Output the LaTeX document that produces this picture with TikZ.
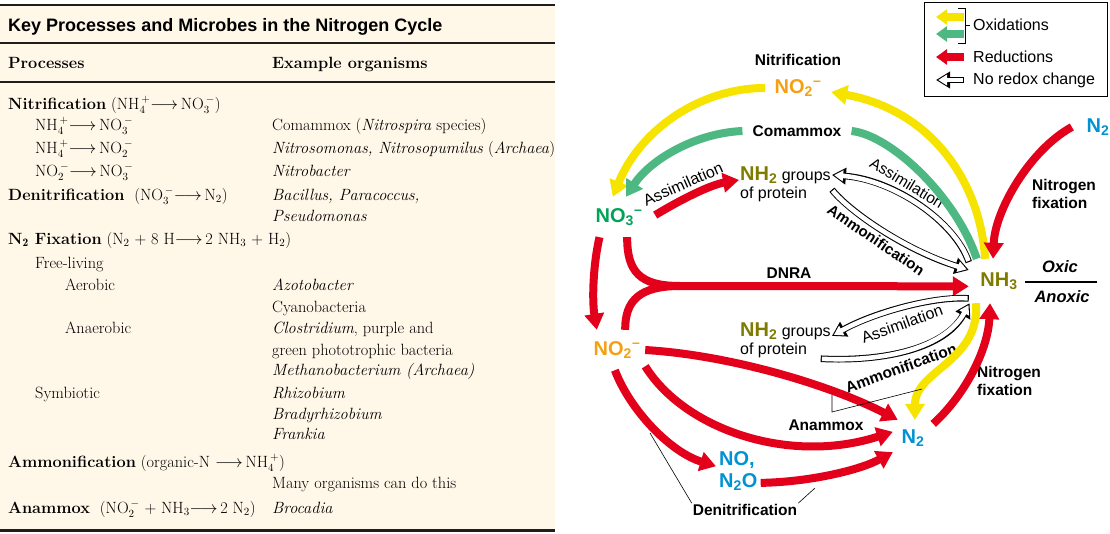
\documentclass[tikz,border=0pt]{standalone}
\usepackage{fontspec}
\setsansfont{Liberation Sans}
\usetikzlibrary{arrows.meta}
\definecolor{NCRed}{HTML}{E2001A}
\definecolor{NCYellow}{HTML}{F6E400}
\definecolor{NCGreen}{HTML}{4DB882}
\definecolor{NCOrange}{HTML}{F4A012}
\definecolor{NCNitrate}{HTML}{00A357}
\definecolor{NCOlive}{HTML}{7F7B00}
\definecolor{NCBlue}{HTML}{0092D2}
\definecolor{NCCream}{HTML}{FFF7E8}
\definecolor{NCDark}{HTML}{1E1E1E}
\newcommand{\ncam}{NH$_4^{\,+}$}
\newcommand{\ncnit}{NO$_3^{\,-}$}
\newcommand{\ncnii}{NO$_2^{\,-}$}
\newcommand{\ncto}{$\longrightarrow$\,}
\tikzset{nccell/.style={anchor=base west, inner sep=0pt, font=\fontsize{16.3}{18}\selectfont}, ncrule/.style={draw=NCDark, line width=2.5pt}, ncchem/.style={font=\sffamily\bfseries\fontsize{20}{22}\selectfont, inner sep=0pt}, nclabel/.style={font=\sffamily\bfseries\fontsize{15.5}{18}\selectfont, inner sep=1pt}, nctext/.style={font=\sffamily\fontsize{16}{18}\selectfont, inner sep=1pt}, ncgroups/.style={nctext, align=left, anchor=west}, ncarrow/.style={line width=8pt, -{Triangle[length=16pt,width=19pt]}}, ncred/.style={ncarrow, draw=NCRed}, ncyellow/.style={ncarrow, draw=NCYellow}, ncgreen/.style={ncarrow, draw=NCGreen}, nchollow/.style={draw=white, line width=4.6pt, shorten <=1.2pt, shorten >=2.2pt, -{Triangle[length=9pt,width=10.5pt]}, preaction={draw=black, line width=6.6pt, shorten <=0pt, shorten >=0pt, -{Triangle[length=14pt,width=16pt]}}}, ncthin/.style={draw=black, line width=0.6pt}}
\begin{document}
\begin{tikzpicture}[x=1pt,y=-1pt]
\useasboundingbox (0,0) rectangle (1110,533);
% table
\fill[NCCream] (0,5) rectangle (555,530);
\draw[ncrule] (0,5) -- (555,5);
\draw[ncrule] (0,43) -- (555,43);
\draw[ncrule, line width=2pt] (0,82) -- (555,82);
\draw[ncrule, line width=3pt] (0,530) -- (555,530);
\node[nccell, font=\sffamily\bfseries\fontsize{18}{20}\selectfont] (ttitle) at (8,31) {Key Processes and Microbes in the Nitrogen Cycle};
\node[nccell, font=\bfseries\fontsize{16.3}{18}\selectfont] (thproc) at (8,68) {Processes};
\node[nccell, font=\bfseries\fontsize{16.3}{18}\selectfont] (thorg) at (272,68) {Example organisms};
\node[nccell] (pnitr) at (8,109) {\textbf{Nitrification} (\ncam\ncto\ncnit)};
\node[nccell] (pnitra) at (35,130) {\ncam\ncto\ncnit};
\node[nccell] (pnitrb) at (35,153) {\ncam\ncto\ncnii};
\node[nccell] (pnitrc) at (35,176) {\ncnii\ncto\ncnit};
\node[nccell] (pdenit) at (8,200) {\textbf{Denitrification}\ \ (\ncnit\ncto N$_2$)};
\node[nccell] (pfix) at (8,244) {\textbf{N$_{\mathbf{2}}$ Fixation} (N$_2$ + 8 H\ncto 2 NH$_3$ + H$_2$)};
\node[nccell] (pfree) at (35,268) {Free-living};
\node[nccell] (paer) at (65,290) {Aerobic};
\node[nccell] (panaer) at (65,333) {Anaerobic};
\node[nccell] (psym) at (35,398) {Symbiotic};
\node[nccell] (pammon) at (8,467) {\textbf{Ammonification} (organic-N \ncto\ncam)};
\node[nccell] (panam) at (8,513) {\textbf{Anammox}\ \ (\ncnii\ + NH$_3$\ncto 2 N$_2$)};
\node[nccell] (onitra) at (272,130) {Comammox (\textit{Nitrospira} species)};
\node[nccell] (onitrb) at (272,153) {\textit{Nitrosomonas, Nitrosopumilus} (\textit{Archaea})};
\node[nccell] (onitrc) at (272,176) {\textit{Nitrobacter}};
\node[nccell] (odenita) at (272,200) {\textit{Bacillus, Paracoccus,}};
\node[nccell] (odenitb) at (272,221) {\textit{Pseudomonas}};
\node[nccell] (oaera) at (272,290) {\textit{Azotobacter}};
\node[nccell] (oaerb) at (272,312) {Cyanobacteria};
\node[nccell] (oanaera) at (272,333) {\textit{Clostridium}, purple and};
\node[nccell] (oanaerb) at (272,355) {green phototrophic bacteria};
\node[nccell] (oanaerc) at (272,375) {\textit{Methanobacterium (Archaea)}};
\node[nccell] (osyma) at (272,398) {\textit{Rhizobium}};
\node[nccell] (osymb) at (272,419) {\textit{Bradyrhizobium}};
\node[nccell] (osymc) at (272,439) {\textit{Frankia}};
\node[nccell] (oammon) at (272,488) {Many organisms can do this};
\node[nccell] (oanam) at (272,513) {\textit{Brocadia}};
% cycle
\node[ncchem, text=NCOrange, minimum width=66pt, minimum height=24pt] (no2top) at (798,88) {NO\textsubscript{2}\textsuperscript{–}};
\node[ncchem, text=NCNitrate, minimum width=72pt, minimum height=40pt] (no3) at (619,217) {NO\textsubscript{3}\textsuperscript{–}};
\node[ncchem, text=NCOrange, minimum width=56pt, minimum height=40pt] (no2) at (617,350) {NO\textsubscript{2}\textsuperscript{–}};
\node[ncchem, text=NCOlive, minimum width=60pt, minimum height=44pt] (nh3) at (999,281) {NH\textsubscript{3}};
\node[ncchem, text=NCBlue, minimum width=52pt, minimum height=24pt] (n2top) at (1098,127) {N\textsubscript{2}};
\node[ncchem, text=NCBlue, minimum width=40pt, minimum height=36pt] (n2bot) at (913,438) {N\textsubscript{2}};
\node[ncchem, text=NCBlue, align=left, anchor=west, inner sep=3pt] (nox) at (716,471) {NO,\\N\textsubscript{2}O};
\node[ncgroups] (nh2top) at (739,184) {{\color{NCOlive}\bfseries\fontsize{20}{20}\selectfont NH\textsubscript{2}} groups\\of protein};
\node[ncgroups] (nh2bot) at (739,340) {{\color{NCOlive}\bfseries\fontsize{20}{20}\selectfont NH\textsubscript{2}} groups\\of protein};
\node[nclabel] (nitrtxt) at (798,60) {Nitrification};
\node[nclabel, inner xsep=10pt] (comtxt) at (797,131) {Comammox};
\node[nclabel] (dnratxt) at (789,273) {DNRA};
\node[nclabel] (anamtxt) at (826,425) {Anammox};
\node[nclabel] (denitxt) at (745,510) {Denitrification};
\node[nclabel, align=left, anchor=west] (fixtop) at (1031,194) {Nitrogen\\fixation};
\node[nclabel, align=left, anchor=west] (fixbot) at (976,381) {Nitrogen\\fixation};
\node[nclabel, font=\sffamily\bfseries\itshape\fontsize{16.5}{18}\selectfont] (oxic) at (1060,267) {Oxic};
\node[nclabel, font=\sffamily\bfseries\itshape\fontsize{16.5}{18}\selectfont] (anoxic) at (1062,297) {Anoxic};
\coordinate (oxl) at (1025,282);
\coordinate (oxr) at (1097,282);
\draw[line width=1.5pt] (oxl) -- (oxr);
\node[nctext, rotate=24] (assimtop) at (683,184) {Assimilation};
\node[nctext, font=\sffamily\fontsize{15.5}{18}\selectfont, rotate=-31] (assimup) at (907,183) {Assimilation};
\node[nclabel, font=\sffamily\bfseries\fontsize{15}{18}\selectfont, rotate=-34] (ammup) at (876,240) {Ammonification};
\node[nctext, rotate=20] (assimlow) at (902,324) {Assimilation};
\node[nclabel, rotate=20] (ammlow) at (901,368) {Ammonification};
% oxidations
\draw[ncyellow] (nh3.122) .. controls (980,180) and (930,110) .. (no2top.353);
\draw[ncyellow] (no2top.west) .. controls (700,88) and (640,130) .. (no3.107);
\draw[ncgreen, -] (nh3.135) .. controls (955,195) and (890,135) .. (comtxt.east);
\draw[ncgreen] (comtxt.west) .. controls (695,133) and (650,160) .. (no3.71);
\draw[ncyellow] (nh3.224) .. controls (980,362) and (915,370) .. (n2bot.84);
% reductions
\coordinate (dnra) at (680,286);
\draw[ncred] (no3.292) .. controls (627,272) and (640,286) .. (dnra) -- (nh3.190);
\draw[ncred, -] (no2.68) .. controls (625,300) and (640,286) .. (dnra);
\draw[ncred] (no3.226) .. controls (593,265) and (592,300) .. (no2.135);
\draw[ncred] (no3.3) .. controls (680,200) and (710,185) .. (nh2top.175);
\draw[ncred] (n2top.west) .. controls (1030,150) and (995,210) .. (nh3.105);
\draw[ncred] (n2bot.35) .. controls (965,395) and (988,350) .. (nh3.248);
\draw[ncred] (no2.0) .. controls (730,355) and (830,385) .. (n2bot.130);
\draw[ncred] (no2.330) .. controls (685,430) and (790,465) .. (n2bot.163);
\draw[ncred] (no2.264) .. controls (630,410) and (670,452) .. (nox.168);
\draw[ncred] (nox.332) .. controls (810,482) and (860,470) .. (n2bot.215);
% no redox change
\draw[nchollow] (nh3.148) .. controls (955,222) and (895,180) .. (nh2top.11);
\draw[nchollow] (nh2top.353) .. controls (850,212) and (905,250) .. (nh3.160);
\draw[nchollow] (nh3.210) .. controls (935,296) and (875,312) .. (nh2bot.5);
\draw[nchollow] (nh2bot.332) .. controls (885,362) and (945,348) .. (nh3.217);
% pointer lines
\coordinate (ab1) at (832,395);
\coordinate (ab2) at (832,412);
\coordinate (ab3) at (922,389);
\draw[ncthin] (ab1) -- (ab2) -- (ab3);
\coordinate (dl1) at (650,433);
\coordinate (dl2) at (815,488);
\draw[ncthin] (dl1) -- (denitxt.north west);
\draw[ncthin] (dl2) -- (denitxt.north east);
% legend
\node[draw, line width=0.8pt, minimum width=183pt, minimum height=94pt] (legend) at (1015.5,49) {};
\coordinate (lgy) at (964,17);
\coordinate (lgg) at (964,34);
\coordinate (lgr) at (964,57);
\coordinate (lgh) at (964,80);
\draw[ncyellow, -{Triangle[length=11pt,width=15pt]}] (lgy) -- ++(-28,0);
\draw[ncgreen, -{Triangle[length=11pt,width=15pt]}] (lgg) -- ++(-28,0);
\draw[ncred, -{Triangle[length=11pt,width=15pt]}] (lgr) -- ++(-28,0);
\draw[nchollow] (lgh) -- ++(-28,0);
\draw[line width=0.7pt] (958,8) -- (965,8) -- (965,43) -- (958,43) (965,25) -- (970,25);
\node[nctext, anchor=west] (legox) at (972,25) {Oxidations};
\node[nctext, anchor=west] (legred) at (972,57) {Reductions};
\node[nctext, anchor=west] (legno) at (972,80) {No redox change};
\end{tikzpicture}
\end{document}
